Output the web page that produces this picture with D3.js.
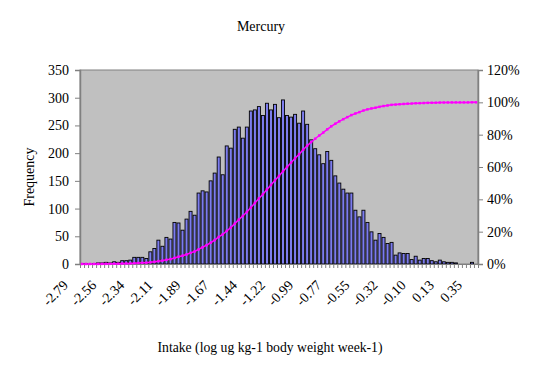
<!DOCTYPE html>
<html>
<head>
<meta charset="utf-8">
<script src="https://cdn.jsdelivr.net/npm/d3@7"></script>
<style>
  html, body { margin: 0; padding: 0; background: #fff; }
  svg { display: block; }
  text { font-family: "Liberation Serif", "Times New Roman", serif; fill: #000; }
</style>
</head>
<body>
<svg id="chart" width="542" height="380"></svg>
<script>
// ---- data ----
const title = "Mercury";
const xTitle = "Intake (log ug kg-1 body weight week-1)";
const yTitle = "Frequency";

// frequency for each of the 99 bins (left to right)
const frequency = [
  1, 1, 0, 1, 2, 2, 3, 2, 4, 3, 6, 6, 7,
  12, 12, 12, 10, 22, 28, 43, 32, 48, 45, 75, 74, 61, 81, 95, 88,
  128, 132, 130, 150, 164, 193, 161, 213, 209, 243, 247, 227, 247,
  276, 278, 284, 268, 290, 278, 288, 264, 296, 268, 265, 270, 254,
  276, 252, 224, 208, 197, 181, 203, 187, 159, 146, 135, 128, 128,
  97, 85, 97, 75, 58, 43, 55, 48, 37, 39, 16, 20, 19, 19, 8,
  14, 7, 10, 10, 6, 4, 7, 4, 3, 3, 2, 0, 0, 0, 3, 0
];

// labelled bins (every 7th bin) and their tick labels
const labelBins = [0, 7, 14, 21, 28, 35, 42, 49, 56, 63, 70, 77, 84, 91, 98];
const tickLabels = ["-2.79", "-2.56", "-2.34", "-2.11", "-1.89", "-1.67", "-1.44",
  "-1.22", "-0.99", "-0.77", "-0.55", "-0.32", "-0.10", "0.13", "0.35"];

const leftTicks = [0, 50, 100, 150, 200, 250, 300, 350];
const rightTicks = [0, 0.2, 0.4, 0.6, 0.8, 1.0, 1.2];

// cumulative percentage series (Excel histogram "Cumulative %")
const total = d3.sum(frequency);
const cumulative = Array.from(d3.cumsum(frequency), v => v / total);

// ---- layout ----
const svg = d3.select("#chart");
const L = 80, R = 478, T = 70, B = 264;
const idx = d3.range(frequency.length);

const x = d3.scaleBand().domain(idx).range([L, R]).paddingInner(0.25).paddingOuter(0.125);
const xEdge = d3.scaleLinear().domain([0, frequency.length]).range([L, R]);
const y = d3.scaleLinear().domain([0, 350]).range([B, T]);
const y2 = d3.scaleLinear().domain([0, 1.2]).range([B, T]);

// plot area
svg.append("rect")
  .attr("x", L).attr("y", T).attr("width", R - L).attr("height", B - T)
  .attr("fill", "#C0C0C0").attr("stroke", "#808080").attr("stroke-width", 1);

// bars
svg.append("g").selectAll("rect").data(frequency).join("rect")
  .attr("x", (d, i) => x(i))
  .attr("y", d => y(d))
  .attr("width", x.bandwidth())
  .attr("height", d => B - y(d))
  .attr("fill", "#7C7CEE")
  .attr("stroke", "#000")
  .attr("stroke-width", 0.9);

// left axis
const gl = svg.append("g").attr("transform", `translate(${L},0)`)
  .call(d3.axisLeft(y).tickValues(leftTicks).tickSize(5).tickPadding(6).tickFormat(d3.format("d")));
gl.selectAll("text").style("font-size", "14px").style("font-family", "Liberation Serif, serif");
gl.select(".domain").attr("stroke", "#808080").attr("stroke-width", 1.5);
gl.selectAll(".tick line").attr("stroke", "#808080");

// right axis
const gr = svg.append("g").attr("transform", `translate(${R},0)`)
  .call(d3.axisRight(y2).tickValues(rightTicks).tickSize(5).tickPadding(4).tickFormat(d3.format(".0%")));
gr.selectAll("text").style("font-size", "14px").style("font-family", "Liberation Serif, serif");
gr.select(".domain").attr("stroke", "#808080").attr("stroke-width", 1.5);
gr.selectAll(".tick line").attr("stroke", "#808080");

// bottom axis: ticks between categories
const gb = svg.append("g").attr("transform", `translate(0,${B})`)
  .call(d3.axisBottom(xEdge).tickValues(d3.range(frequency.length + 1)).tickSize(4).tickFormat(""));
gb.select(".domain").attr("stroke", "#808080");
gb.selectAll(".tick line").attr("stroke", "#808080");

// rotated category labels
svg.append("g").selectAll("text").data(labelBins).join("text")
  .attr("transform", (b) => `translate(${x(b) + x.bandwidth() / 2 - 13},286) rotate(-45)`)
  .attr("text-anchor", "end")
  .style("font-size", "14px")
  .text((b, i) => tickLabels[i]);

// cumulative line
const line = d3.line()
  .x((d, i) => x(i) + x.bandwidth() / 2)
  .y(d => y2(d));
svg.append("path").datum(cumulative)
  .attr("d", line)
  .attr("fill", "none")
  .attr("stroke", "#FF00FF")
  .attr("stroke-width", 1.5);
svg.append("g").selectAll("rect").data(cumulative).join("rect")
  .attr("x", (d, i) => x(i) + x.bandwidth() / 2 - 1.25)
  .attr("y", d => y2(d) - 1.25)
  .attr("width", 2.5).attr("height", 2.5)
  .attr("fill", "#FF00FF");

// titles
svg.append("text").attr("x", 261).attr("y", 31).attr("text-anchor", "middle")
  .style("font-size", "14px").text(title);
svg.append("text").attr("x", 270).attr("y", 352).attr("text-anchor", "middle")
  .style("font-size", "13.7px").text(xTitle);
svg.append("text").attr("transform", "translate(34,177) rotate(-90)").attr("text-anchor", "middle")
  .style("font-size", "14px").text(yTitle);
</script>
</body>
</html>
